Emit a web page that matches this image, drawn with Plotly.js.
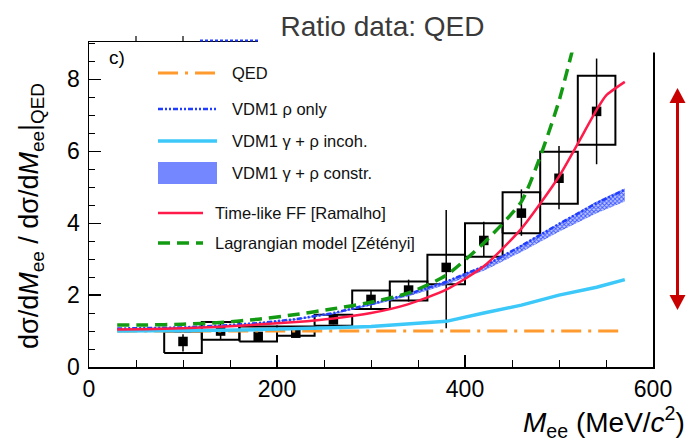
<!DOCTYPE html>
<html><head><meta charset="utf-8">
<script src="https://cdn.plot.ly/plotly-3.0.1.min.js"></script>
<style>html,body{margin:0;padding:0;background:#fff}#chart{width:693px;height:443px}</style>
</head><body><div id="chart"></div>
<script>
// ---------- data ----------
const massBins   = [100, 140, 180, 220, 260, 300, 340, 380, 420, 460, 500, 540];
const ratioData  = [0.71, 1.0, 0.85, 0.94, 1.31, 1.88, 2.14, 2.77, 3.52, 4.28, 5.25, 7.11];
const statUp     = [0.20, 0.20, 0.12, 0.10, 0.12, 0.25, 0.29, 1.60, 0.52, 0.66, 0.90, 1.47];
const statDown   = [0.28, 0.22, 0.12, 0.10, 0.12, 0.25, 0.32, 1.69, 0.45, 0.63, 0.86, 1.47];
const sysLow     = [0.39, 0.76, 0.71, 0.87, 1.15, 1.61, 1.85, 2.30, 3.07, 3.72, 4.54, 6.18];
const sysHigh    = [0.99, 1.25, 1.13, 1.13, 1.45, 2.13, 2.38, 3.12, 4.00, 4.86, 5.99, 8.10];
const binHalfWidth = 20;

const modelMass  = [30, 60, 100, 140, 180, 220, 260, 300, 340, 380, 420, 460, 500, 540, 570];
const qedRatio   = [1, 1, 1, 1, 1, 1, 1, 1, 1, 1, 1, 1, 1, 1, 1];
const vdmIncoh   = [1.0, 1.0, 1.01, 1.02, 1.04, 1.06, 1.09, 1.13, 1.2, 1.27, 1.5, 1.72, 2.0, 2.22, 2.43];
const vdmRhoOnly = [1.07, 1.08, 1.1, 1.15, 1.22, 1.33, 1.5, 1.75, 2.03, 2.37, 2.8, 3.37, 3.98, 4.56, 4.93];
const vdmConstrLow  = [1.05, 1.06, 1.08, 1.13, 1.2, 1.31, 1.47, 1.71, 1.97, 2.29, 2.68, 3.2, 3.76, 4.28, 4.6];
const vdmConstrHigh = [1.08, 1.09, 1.11, 1.16, 1.23, 1.34, 1.51, 1.76, 2.05, 2.39, 2.82, 3.4, 4.01, 4.6, 4.97];

const ffMass     = [30, 60, 100, 140, 180, 220, 260, 300, 340, 380, 420, 460, 500, 540, 550, 570];
const ffRamalho  = [1.04, 1.05, 1.08, 1.12, 1.18, 1.25, 1.35, 1.5, 1.75, 2.15, 2.8, 3.85, 5.3, 7.15, 7.55, 7.93];

const lagMass    = [30, 60, 100, 140, 180, 220, 260, 300, 340, 380, 420, 460, 480, 500, 520];
const lagZetenyi = [1.17, 1.17, 1.19, 1.24, 1.33, 1.46, 1.62, 1.8, 2.06, 2.55, 3.45, 4.6, 5.85, 7.4, 9.4];

const legendLabels = ['QED', 'VDM1 \u03c1 only', 'VDM1 \u03b3 + \u03c1 incoh.', 'VDM1 \u03b3 + \u03c1 constr.',
                      'Time-like FF [Ramalho]', 'Lagrangian model [Z\u00e9t\u00e9nyi]'];

// ---------- geometry helpers ----------
const W = 693, H = 443, ML = 89, MR = 40, MT = 42, MB = 76;
const PW = W - ML - MR, PH = H - MT - MB;
const px = x => (x - ML) / PW;
const py = y => (H - MB - y) / PH;

const C = {
  qed: '#ff9a2e', rho: '#1f3cff', incoh: '#3cc8f8', band: '#3a55ff',
  red: '#ff1a4a', green: '#139a13'
};

// systematic boxes built from data arrays
const boxX = [], boxY = [];
massBins.forEach((m, i) => {
  const xl = m - binHalfWidth, xr = m + binHalfWidth;
  boxX.push(xl, xr, xr, xl, xl, null);
  boxY.push(sysLow[i], sysLow[i], sysHigh[i], sysHigh[i], sysLow[i], null);
});

const traces = [
  {x: boxX, y: boxY, mode: 'lines', line: {color: '#000', width: 2}, hoverinfo: 'skip', showlegend: false},
  {x: massBins, y: ratioData, mode: 'markers', marker: {symbol: 'square', size: 9.5, color: '#000'},
   error_y: {type: 'data', symmetric: false, array: statUp, arrayminus: statDown, width: 0, thickness: 1.5, color: '#000'},
   showlegend: false},
  {x: modelMass, y: vdmConstrLow, mode: 'lines', line: {width: 0, color: C.band}, showlegend: false, hoverinfo: 'skip'},
  {x: modelMass, y: vdmConstrHigh, mode: 'lines', line: {width: 0, color: C.band}, fill: 'tonexty',
   fillcolor: 'rgba(110,130,255,0.55)',
   fillpattern: {shape: 'x', fgcolor: C.band, bgcolor: 'rgba(150,165,255,0.6)', size: 3, solidity: 0.5},
   showlegend: false, name: legendLabels[3]},
  {x: modelMass, y: qedRatio, mode: 'lines', name: legendLabels[0],
   line: {color: C.qed, width: 3, dash: '20px,7px,3px,7px'}, showlegend: false},
  {x: modelMass, y: vdmIncoh, mode: 'lines', name: legendLabels[2],
   line: {color: C.incoh, width: 3.5}, showlegend: false},
  {x: modelMass, y: vdmRhoOnly, mode: 'lines', name: legendLabels[1],
   line: {color: C.rho, width: 2.5, dash: '5px,2px,2px,2px,2px,2px'}, showlegend: false},
  {x: ffMass, y: ffRamalho, mode: 'lines', name: legendLabels[4],
   line: {color: C.red, width: 2.5, shape: 'spline', smoothing: 0.6}, showlegend: false},
  {x: lagMass, y: lagZetenyi, mode: 'lines', name: legendLabels[5],
   line: {color: C.green, width: 3.5, dash: '12px,7px', shape: 'spline', smoothing: 0.6}, showlegend: false}
];

// ---------- hand-drawn legend (shapes + annotations) ----------
const shapes = [];
const annotations = [];
const legendRows = [
  {y: 73,  x0: 158, x1: 217, tx: 230, line: {color: C.qed, width: 3, dash: '20px,7px,3px,7px'}},
  {y: 109, x0: 158, x1: 217, tx: 230, line: {color: C.rho, width: 2.5, dash: '5px,2px,2px,2px,2px,2px'}},
  {y: 141, x0: 158, x1: 217, tx: 230, line: {color: C.incoh, width: 3.5}},
  {y: 173, x0: 158, x1: 217, tx: 230, box: true},
  {y: 213, x0: 158, x1: 203, tx: 213, line: {color: C.red, width: 2.5}},
  {y: 243, x0: 158, x1: 203, tx: 213, line: {color: C.green, width: 3.5, dash: '12px,7px'}}
];
legendRows.forEach((r, i) => {
  if (r.box) {
    shapes.push({type: 'rect', xref: 'paper', yref: 'paper', x0: px(r.x0), x1: px(r.x1),
      y0: py(r.y + 11), y1: py(r.y - 11), fillcolor: 'rgba(70,95,255,0.75)', line: {width: 0}});
  } else {
    shapes.push({type: 'line', xref: 'paper', yref: 'paper', x0: px(r.x0), x1: px(r.x1),
      y0: py(r.y), y1: py(r.y), line: r.line});
  }
  annotations.push({xref: 'paper', yref: 'paper', x: px(r.tx), y: py(r.y), xanchor: 'left', yanchor: 'middle',
    text: legendLabels[i], showarrow: false, font: {family: 'Liberation Sans, Arial, sans-serif', size: 16.5, color: '#111'}});
});

// white panel under the slide title (covers the figure's top-right)
shapes.push({type: 'rect', xref: 'paper', yref: 'paper', x0: px(258), x1: px(W + 5), y0: py(52.5), y1: py(-5),
  fillcolor: '#fff', line: {width: 0}, layer: 'above'});
// remnants of the panel above
[50, 100].forEach(v => shapes.push({type: 'line', xref: 'x', yref: 'paper', x0: v, x1: v, y0: 1, y1: 1 + 6 / PH,
  line: {color: '#000', width: 1.2}}));
shapes.push({type: 'line', xref: 'paper', yref: 'paper', x0: px(200), x1: px(258), y0: py(40.5), y1: py(40.5),
  line: {color: C.rho, width: 2, dash: '3px,2px'}});

// red double arrow
const ax = 677.5, tipTop = 88, tipBot = 310, headL = 15, headW = 8;
shapes.push({type: 'line', xref: 'paper', yref: 'paper', x0: px(ax), x1: px(ax), y0: py(tipTop + headL - 1), y1: py(tipBot - headL + 1),
  line: {color: '#c80000', width: 3}});
shapes.push({type: 'path', xref: 'paper', yref: 'paper', fillcolor: '#c80000', line: {width: 0},
  path: `M${px(ax)},${py(tipTop)} L${px(ax - headW)},${py(tipTop + headL)} L${px(ax + headW)},${py(tipTop + headL)} Z`});
shapes.push({type: 'path', xref: 'paper', yref: 'paper', fillcolor: '#c80000', line: {width: 0},
  path: `M${px(ax)},${py(tipBot)} L${px(ax - headW)},${py(tipBot - headL)} L${px(ax + headW)},${py(tipBot - headL)} Z`});

// panel label, axis titles
annotations.push({xref: 'paper', yref: 'paper', x: px(107), y: py(58), xanchor: 'left', yanchor: 'middle',
  text: 'c)', showarrow: false, font: {family: 'Liberation Sans, Arial, sans-serif', size: 19, color: '#000'}});
annotations.push({xref: 'paper', yref: 'paper', x: px(31), y: py(216), xanchor: 'center', yanchor: 'middle', textangle: -90,
  text: 'd\u03c3/d<i>M</i><sub>ee</sub> / d\u03c3/d<i>M</i><sub>ee</sub>|<sub>QED</sub>', showarrow: false,
  font: {family: 'Liberation Sans, Arial, sans-serif', size: 27, color: '#000'}});
annotations.push({xref: 'paper', yref: 'paper', x: px(687), y: py(422), xanchor: 'right', yanchor: 'middle',
  text: '<i>M</i><sub>ee</sub> (MeV/<i>c</i><sup>2</sup>)', showarrow: false,
  font: {family: 'Liberation Sans, Arial, sans-serif', size: 28, color: '#000'}});

const tickFont = {family: 'Liberation Sans, Arial, sans-serif', size: 23, color: '#000'};
const layout = {
  width: W, height: H, margin: {l: ML, r: MR, t: MT, b: MB, pad: 0},
  paper_bgcolor: '#fff', plot_bgcolor: '#fff', showlegend: false,
  title: {text: 'Ratio data: QED', x: 382.5 / W, xanchor: 'center', y: 1 - 26 / H, yanchor: 'middle',
    font: {family: 'Liberation Sans, Arial, sans-serif', size: 28, color: '#3a3a3a'}},
  xaxis: {range: [0, 600], tick0: 0, dtick: 200, ticks: 'inside', ticklen: 12, tickwidth: 1.3, tickcolor: '#000',
    showline: true, linecolor: '#000', linewidth: 1.5, mirror: true, showgrid: false, zeroline: false,
    tickfont: tickFont, ticklabelstandoff: 1,
    minor: {ticks: 'inside', dtick: 50, ticklen: 7, tickwidth: 1, tickcolor: '#000', showgrid: false}},
  yaxis: {range: [0, 9.04], tick0: 0, dtick: 2, ticks: 'inside', ticklen: 12, tickwidth: 1.3, tickcolor: '#000',
    showline: true, linecolor: '#000', linewidth: 1.5, mirror: true, showgrid: false, zeroline: false,
    tickfont: tickFont, ticklabelstandoff: 3,
    minor: {ticks: 'inside', dtick: 0.5, ticklen: 6, tickwidth: 1, tickcolor: '#000', showgrid: false}},
  shapes: shapes, annotations: annotations
};

Plotly.newPlot('chart', traces, layout, {displayModeBar: false, staticPlot: true});
</script></body></html>
